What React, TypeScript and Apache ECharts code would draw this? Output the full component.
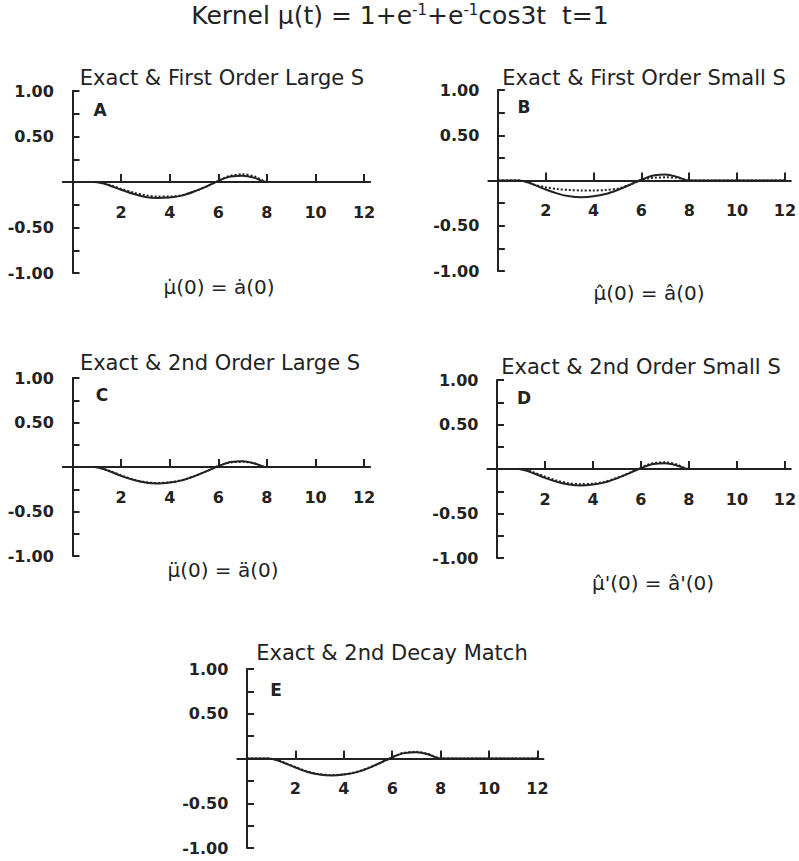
import React, { useEffect, useRef } from "react";
import * as echarts from "echarts";

// time grid (t) shared by all panels
const T = [0, 0.5, 0.9, 1.25, 1.5, 2, 2.5, 3, 3.5, 4, 4.5, 5, 5.5, 5.9, 6.25, 6.5, 7, 7.5, 7.8, 8, 9, 10, 11, 12];

// exact kernel (solid)
const exactA = [0, 0, 0, -0.015, -0.035, -0.085, -0.13, -0.165, -0.175, -0.17, -0.15, -0.105, -0.05, 0, 0.04, 0.06, 0.07, 0.045, 0.012, 0, 0, 0, 0, 0];
const exactB = [0, 0, 0, -0.02, -0.045, -0.1, -0.145, -0.175, -0.185, -0.175, -0.15, -0.105, -0.05, 0, 0.035, 0.055, 0.065, 0.04, 0.01, 0, 0, 0, 0, 0];
const exactC = [0, 0, 0, -0.02, -0.045, -0.1, -0.145, -0.175, -0.185, -0.175, -0.15, -0.105, -0.05, 0, 0.035, 0.055, 0.065, 0.04, 0.01, 0, 0, 0, 0, 0];
const exactD = [0, 0, 0, -0.02, -0.045, -0.1, -0.145, -0.175, -0.185, -0.175, -0.15, -0.105, -0.05, 0, 0.035, 0.055, 0.065, 0.04, 0.01, 0, 0, 0, 0, 0];
const exactE = [0, 0, 0, -0.02, -0.045, -0.1, -0.15, -0.18, -0.19, -0.18, -0.155, -0.11, -0.05, 0, 0.04, 0.06, 0.07, 0.045, 0.012, 0, 0, 0, 0, 0];

// approximations (dotted)
const approxA = [0, 0, 0, -0.01, -0.03, -0.075, -0.115, -0.145, -0.16, -0.16, -0.145, -0.105, -0.05, 0, 0.045, 0.07, 0.085, 0.06, 0.02, 0, 0, 0, 0, 0];
const approxB = [0, 0, 0, -0.02, -0.045, -0.075, -0.095, -0.105, -0.11, -0.11, -0.105, -0.09, -0.05, -0.005, 0.02, 0.03, 0.035, 0.03, 0.01, 0, 0, 0, 0, 0];
const approxC = [0, 0, 0, -0.018, -0.04, -0.095, -0.14, -0.17, -0.18, -0.172, -0.148, -0.105, -0.05, 0, 0.035, 0.05, 0.06, 0.04, 0.01, 0, 0, 0, 0, 0];
const approxD = [0, 0, 0, -0.015, -0.035, -0.085, -0.13, -0.16, -0.17, -0.165, -0.142, -0.1, -0.045, 0.002, 0.045, 0.065, 0.075, 0.05, 0.015, 0, 0, 0, 0, 0];
const approxE = [0, 0, 0, -0.018, -0.042, -0.095, -0.145, -0.175, -0.185, -0.177, -0.152, -0.106, -0.048, 0.002, 0.045, 0.065, 0.075, 0.05, 0.014, 0, 0, 0, 0, 0];

const xTickValues = [2, 4, 6, 8, 10, 12];
const yLabelValues = [1, 0.5, -0.5, -1];

const panelTitles = [
  "Exact & First Order Large S",
  "Exact & First Order Small S",
  "Exact & 2nd Order Large S",
  "Exact & 2nd Order Small S",
  "Exact & 2nd Decay Match",
];
const panelLetters = ["A", "B", "C", "D", "E"];
const panelFormulas = [
  "\u03bc\u0307(0) = a\u0307(0)",
  "\u03bc\u0302(0) = a\u0302(0)",
  "\u03bc\u0308(0) = a\u0308(0)",
  "\u03bc\u0302'(0) = a\u0302'(0)",
  "",
];
const exactSeries = [exactA, exactB, exactC, exactD, exactE];
const approxSeries = [approxA, approxB, approxC, approxD, approxE];

// layout (pixels)
const X_MIN = -0.4;
const X_MAX = 12.25;
const layout = [
  { x0: 72.5, ppu: 24.3, top: 91, bottom: 273, tx: 222, ty: 78, lx: 100, ly: 110, fx: 219, fy: 287 },
  { x0: 498, ppu: 24.2, top: 90, bottom: 271, tx: 644, ty: 78, lx: 524, ly: 107, fx: 649, fy: 293 },
  { x0: 72.5, ppu: 24.3, top: 378, bottom: 556, tx: 220, ty: 363, lx: 102, ly: 395, fx: 223, fy: 570 },
  { x0: 497, ppu: 24, top: 380, bottom: 558, tx: 641, ty: 367, lx: 524, ly: 398, fx: 653, fy: 583 },
  { x0: 247, ppu: 24.2, top: 669, bottom: 848, tx: 392, ty: 653, lx: 276, ly: 690, fx: 0, fy: 0 },
];

const INK = "#222";
const FONT = "DejaVu Sans";
const TICK_FONT = 16;
const X_LABEL_GAP = 22; // px from zero line to top of x labels

export default function App() {
  const ref = useRef<HTMLDivElement>(null);

  useEffect(() => {
    if (!ref.current) return;
    const chart = echarts.init(ref.current, undefined, { renderer: "svg" });

    const grid: any[] = [];
    const xAxis: any[] = [];
    const yAxis: any[] = [];
    const series: any[] = [];
    const graphic: any[] = [];

    layout.forEach((L, i) => {
      const h = L.bottom - L.top;
      grid.push({
        left: L.x0 + X_MIN * L.ppu,
        width: (X_MAX - X_MIN) * L.ppu,
        top: L.top,
        height: h,
        containLabel: false,
      });
      xAxis.push({
        type: "value",
        gridIndex: i,
        min: X_MIN,
        max: X_MAX,
        axisLine: { show: true, onZero: true, lineStyle: { color: INK, width: 2 } },
        axisTick: { show: true, inside: true, length: 8, customValues: xTickValues, lineStyle: { color: INK, width: 2 } },
        axisLabel: {
          show: true,
          customValues: xTickValues,
          margin: X_LABEL_GAP - h / 2,
          color: INK,
          fontFamily: FONT,
          fontWeight: "bold",
          fontSize: TICK_FONT,
        },
        splitLine: { show: false },
      });
      yAxis.push({
        type: "value",
        gridIndex: i,
        min: -1,
        max: 1,
        interval: 0.25,
        axisLine: { show: true, onZero: true, lineStyle: { color: INK, width: 2 } },
        axisTick: { show: true, inside: true, length: 7, lineStyle: { color: INK, width: 2 } },
        axisLabel: {
          show: true,
          margin: 9,
          color: INK,
          fontFamily: FONT,
          fontWeight: "bold",
          fontSize: TICK_FONT,
          formatter: (v: number) =>
            yLabelValues.some((y) => Math.abs(y - v) < 1e-9) ? v.toFixed(2) : "",
        },
        splitLine: { show: false },
      });
      series.push({
        type: "line",
        xAxisIndex: i,
        yAxisIndex: i,
        data: T.map((t, k) => [t, exactSeries[i][k]]),
        showSymbol: false,
        smooth: 0.3,
        lineStyle: { color: INK, width: 2 },
        z: 3,
      });
      series.push({
        type: "line",
        xAxisIndex: i,
        yAxisIndex: i,
        data: T.map((t, k) => [t, approxSeries[i][k]]),
        showSymbol: false,
        smooth: 0.3,
        lineStyle: { color: INK, width: 2, type: [2, 2] },
        z: 4,
      });

      graphic.push({
        type: "text",
        x: L.tx,
        y: L.ty,
        style: {
          text: panelTitles[i],
          fill: INK,
          font: `21px "${FONT}"`,
          textAlign: "center",
          textVerticalAlign: "middle",
        },
      });
      graphic.push({
        type: "text",
        x: L.lx,
        y: L.ly,
        style: {
          text: panelLetters[i],
          fill: INK,
          font: `bold 17px "${FONT}"`,
          textAlign: "center",
          textVerticalAlign: "middle",
        },
      });
      if (panelFormulas[i]) {
        graphic.push({
          type: "text",
          x: L.fx,
          y: L.fy,
          style: {
            text: panelFormulas[i],
            fill: INK,
            font: `20px "${FONT}"`,
            textAlign: "center",
            textVerticalAlign: "middle",
          },
        });
      }
    });

    graphic.push({
      type: "text",
      x: 400,
      y: 15,
      style: {
        text: "Kernel \u03bc(t) = 1+e{sup|-1}+e{sup|-1}cos3t  t=1",
        fill: INK,
        font: `25px "${FONT}"`,
        textAlign: "center",
        textVerticalAlign: "middle",
        rich: {
          sup: {
            fontSize: 15,
            fontFamily: FONT,
            fill: INK,
            color: INK,
            verticalAlign: "top",
            padding: [0, 0, 10, 0],
          },
        },
      },
    });

    chart.setOption({
      animation: false,
      backgroundColor: "#ffffff",
      grid,
      xAxis,
      yAxis,
      series,
      graphic,
    });

    return () => chart.dispose();
  }, []);

  return (
    <div
      ref={ref}
      style={{ position: "absolute", left: 0, top: 0, width: 799, height: 861, background: "#fff" }}
    />
  );
}
